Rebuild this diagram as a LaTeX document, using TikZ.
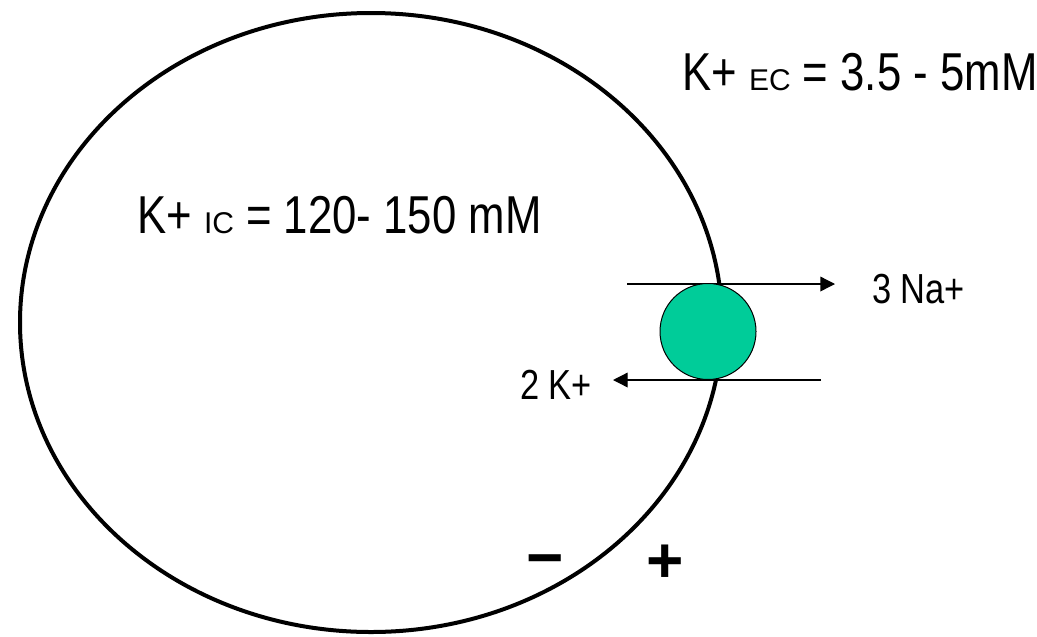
\documentclass[tikz,border=0pt]{standalone}
\usepackage{fontspec}
\setmainfont{Liberation Sans}[FakeStretch=0.82]
\newfontfamily\signfont{Liberation Sans}
\usepackage{tikz}
\usetikzlibrary{arrows.meta}
\definecolor{PumpGreen}{HTML}{00CC99}
\newcommand{\Sub}[1]{{\signfont\fontsize{22.5}{27}\selectfont #1}}
\tikzset{
  bigtext/.style={anchor=base west,inner sep=0pt,font=\fontsize{40}{48}\selectfont},
  iontext/.style={anchor=base west,inner sep=0pt,font=\fontsize{31.5}{38}\selectfont},
  signtext/.style={anchor=base,inner sep=0pt,font=\signfont\bfseries\fontsize{48}{56}\selectfont},
  flux/.style={line width=1pt,-{Triangle[length=11pt,width=11pt]}}
}

\begin{document}
\begin{tikzpicture}[x=0.75pt,y=-0.75pt]
\useasboundingbox (0,0) rectangle (1037,636);
\draw[line width=3pt] (371,322.5) ellipse [x radius=351,y radius=309.5];
\coordinate (naFrom) at (627,284);
\coordinate (naTo) at (835,284);
\coordinate (kFrom) at (821,380);
\coordinate (kTo) at (613,380);
\draw[flux] (naFrom) -- (naTo);
\draw[flux] (kFrom) -- (kTo);
\node[circle,draw,line width=0.75pt,fill=PumpGreen,minimum size=72pt,inner sep=0pt] (pump) at (708,331.5) {};
\node[bigtext] (kec) at (682,90) {K+ \Sub{EC} = 3.5 - 5mM};
\node[bigtext] (kic) at (137,233) {K+ \Sub{IC} = 120- 150 mM};
\node[iontext] (na) at (872,303) {3 Na+};
\node[iontext] (kion) at (520,399) {2 K+};
\node[signtext] (minus) at (545,579) {−};
\node[signtext] (plus) at (665,582) {+};
\end{tikzpicture}
\end{document}
